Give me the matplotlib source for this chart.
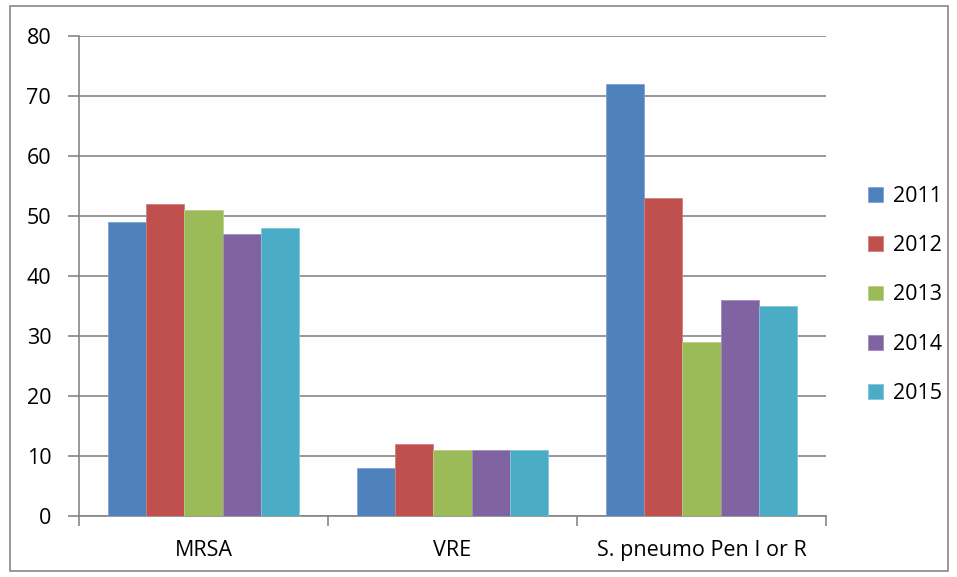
import numpy as np
import matplotlib.pyplot as plt
from matplotlib.patches import Rectangle

plt.rcParams['font.family'] = ['Open Sans', 'DejaVu Sans']

categories = ['MRSA', 'VRE', 'S. pneumo Pen I or R']
years = ['2011', '2012', '2013', '2014', '2015']
colors = ['#4F81BD', '#C0504D', '#9BBB59', '#8064A2', '#4BACC6']
edges = ['#7EA3D3', '#D37E7B', '#B8D088', '#A08DBF', '#7DC6DA']

v2011 = [49, 8, 72]
v2012 = [52, 12, 53]
v2013 = [51, 11, 29]
v2014 = [47, 11, 36]
v2015 = [48, 11, 35]
series = [v2011, v2012, v2013, v2014, v2015]

W, H = 957, 577
fs = 15.5
fig = plt.figure(figsize=(W / 100, H / 100), dpi=100)
ax = fig.add_axes([79 / W, 1 - 516 / H, (826 - 79) / W, (516 - 36) / H])

# outer chart border
fig.patches.append(Rectangle((10 / W, 1 - 571 / H), 938 / W, 565 / H,
                             transform=fig.transFigure, fill=False,
                             edgecolor='#868686', linewidth=1.2))

bw = 1 / 6.5
x = np.arange(len(categories))
for i, vals in enumerate(series):
    ax.bar(x - 2.5 * bw + (i + 0.5) * bw, vals, width=bw, color=colors[i],
           edgecolor=edges[i], linewidth=0.6, label=years[i], zorder=3)

ax.set_xlim(-0.5, 2.5)
ax.set_ylim(0, 80)
ax.set_yticks(range(0, 81, 10))
ax.yaxis.grid(True, color='#868686', linewidth=1.2, zorder=0)
ax.set_xticks(x)
ax.set_xticklabels(categories)
ax.set_xticks([-0.5, 0.5, 1.5, 2.5], minor=True)
ax.tick_params(axis='x', which='major', length=0, pad=17, labelsize=fs)
ax.tick_params(axis='x', which='minor', length=7, width=1.2, color='#868686')
ax.tick_params(axis='y', length=8, width=1.2, color='#868686', pad=12, labelsize=fs)

for s in ['top', 'right']:
    ax.spines[s].set_visible(False)
for s in ['left', 'bottom']:
    ax.spines[s].set_color('#868686')
    ax.spines[s].set_linewidth(1.2)

ax.legend(loc='center left', bbox_to_anchor=(849 / W, 1 - 295 / H),
          bbox_transform=fig.transFigure, frameon=False, fontsize=fs,
          handlelength=0.68, handleheight=0.68, handletextpad=0.45,
          labelspacing=1.32)

fig.savefig('out.png', dpi=100)
